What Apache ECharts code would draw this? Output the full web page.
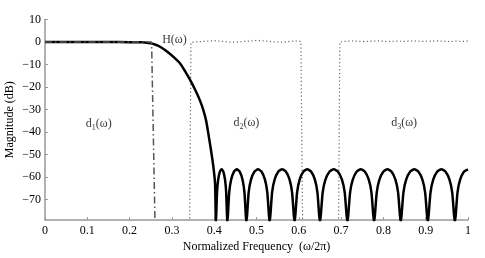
<!DOCTYPE html>
<html>
<head>
<meta charset="utf-8">
<script src="https://cdn.jsdelivr.net/npm/echarts@6/dist/echarts.min.js"></script>
<style>
html,body{margin:0;padding:0;background:#fff;}
#chart{width:485px;height:258px;}
</style>
</head>
<body>
<div id="chart"></div>
<script>
// ---- data ----
var xTicks = [0, 0.1, 0.2, 0.3, 0.4, 0.5, 0.6, 0.7, 0.8, 0.9, 1];
var yTicks = [10, 0, -10, -20, -30, -40, -50, -60, -70];

// H(omega): passband + roll-off
var hFreq = [0, 0.05, 0.1, 0.15, 0.2, 0.23, 0.24, 0.25, 0.26, 0.272, 0.29, 0.305, 0.319, 0.331, 0.343, 0.355, 0.366, 0.374, 0.381, 0.386, 0.392, 0.398, 0.402, 0.404,
  // stopband lobes
  0.4048, 0.4067, 0.4094, 0.4135, 0.4175, 0.4216, 0.4256, 0.4283, 0.4302, 0.431,
  0.4324, 0.4355, 0.44, 0.4468, 0.4535, 0.4603, 0.467, 0.4715, 0.4747, 0.476,
  0.4777, 0.4815, 0.487, 0.4953, 0.5035, 0.5118, 0.52, 0.5255, 0.5294, 0.531,
  0.5328, 0.5369, 0.5428, 0.5517, 0.5605, 0.5694, 0.5782, 0.5841, 0.5883, 0.590,
  0.5918, 0.596, 0.602, 0.611, 0.620, 0.629, 0.638, 0.644, 0.6482, 0.650,
  0.652, 0.6565, 0.663, 0.6728, 0.6825, 0.6923, 0.702, 0.7085, 0.713, 0.715,
  0.7169, 0.7213, 0.7276, 0.737, 0.7465, 0.756, 0.7654, 0.7717, 0.7761, 0.778,
  0.7799, 0.7843, 0.7906, 0.8001, 0.8095, 0.819, 0.8284, 0.8347, 0.8391, 0.841,
  0.8429, 0.8474, 0.8538, 0.8634, 0.873, 0.8826, 0.8922, 0.8986, 0.9031, 0.905,
  0.9069, 0.9114, 0.9178, 0.9274, 0.937, 0.9466, 0.9562, 0.9626, 0.9671, 0.969,
  0.9709, 0.9752, 0.9814, 0.9907, 1.0];
var hMag = [0, 0, 0, 0, -0.05, -0.15, -0.3, -0.6, -1.1, -2.1, -4.4, -6.8, -9.4, -12.9, -16.8, -21.2, -25.8, -30.0, -35.0, -40.5, -47.5, -55.3, -62.8, -80,
  -77, -66.7, -61.1, -57.5, -56.5, -57.5, -61.1, -66.7, -77, -80,
  -77, -66.7, -61.1, -57.5, -56.5, -57.5, -61.1, -66.7, -77, -80,
  -77, -66.7, -61.1, -57.5, -56.5, -57.5, -61.1, -66.7, -77, -80,
  -77, -66.7, -61.1, -57.5, -56.5, -57.5, -61.1, -66.7, -77, -80,
  -77, -66.7, -61.1, -57.5, -56.5, -57.5, -61.1, -66.7, -77, -80,
  -77, -66.7, -61.1, -57.5, -56.5, -57.5, -61.1, -66.7, -77, -80,
  -77, -66.7, -61.1, -57.5, -56.5, -57.5, -61.1, -66.7, -77, -80,
  -77, -66.7, -61.1, -57.5, -56.5, -57.5, -61.1, -66.7, -77, -80,
  -77, -66.7, -61.1, -57.5, -56.5, -57.5, -61.1, -66.7, -77, -80,
  -77, -66.7, -61.1, -57.5, -56.5, -57.5, -61.1, -66.7, -77, -80,
  -77, -66.7, -61.1, -57.5, -56.5];

// d1(omega): ideal lowpass (dash-dot)
var d1Freq = [0, 0.252, 0.26];
var d1Mag = [0, 0, -80];

// d2(omega): bandpass (dotted)
var d2Freq = [0.342, 0.345, 0.36, 0.38, 0.40, 0.42, 0.44, 0.46, 0.48, 0.50, 0.52, 0.54, 0.56, 0.58, 0.60, 0.605, 0.609];
var d2Mag = [-80, -0.2, 0.1, 0.4, 0.6, 0.3, -0.1, 0.1, 0.4, 0.7, 0.5, 0.1, -0.1, 0.3, 0.5, 0.1, -80];

// d3(omega): highpass (dotted)
var d3Freq = [0.694, 0.697, 0.71, 0.73, 0.75, 0.77, 0.79, 0.81, 0.83, 0.85, 0.87, 0.89, 0.91, 0.93, 0.95, 0.97, 0.99, 1.0];
var d3Mag = [-80, 0.0, 0.3, 0.5, 0.2, 0.4, 0.5, 0.2, 0.4, 0.3, 0.5, 0.3, 0.4, 0.5, 0.2, 0.4, 0.3, 0.4];

// annotation positions (data units) and texts
var annoText = ['H', 'd1', 'd2', 'd3'];
var annoX = [0.277, 0.127, 0.476, 0.849];
var annoY = [0.9, -36.5, -36.0, -36.0];

function zip(a, b) { return a.map(function (v, i) { return [v, b[i]]; }); }

var serif = '"Liberation Serif", "DejaVu Serif", serif';
var chart = echarts.init(document.getElementById('chart'), null, {renderer: 'canvas'});

var annoData = annoText.map(function (t, i) {
  var txt;
  if (t === 'H') txt = '{b|H(ω)}';
  else txt = '{b|d}{s|' + t.slice(1) + '}{b|(ω)}';
  return {
    value: [annoX[i], annoY[i]],
    label: {
      formatter: txt,
      position: t === 'H' ? 'right' : 'inside',
      distance: 0
    }
  };
});

chart.setOption({
  animation: false,
  backgroundColor: '#fff',
  grid: {left: 45, right: 17, top: 19.5, bottom: 38, containLabel: false, outerBoundsMode: 'none'},
  xAxis: {
    type: 'value', min: 0, max: 1, interval: 0.1,
    name: 'Normalized Frequency  (ω/2π)',
    nameLocation: 'middle', nameGap: 21, nameMoveOverlap: false,
    nameTextStyle: {fontFamily: serif, fontSize: 12, color: '#000'},
    axisLine: {show: true, onZero: false, lineStyle: {color: '#999', width: 1.5}},
    axisTick: {show: true, inside: true, length: 3, lineStyle: {color: '#999'}},
    axisLabel: {fontFamily: serif, fontSize: 12, color: '#000', margin: 5},
    splitLine: {show: false}
  },
  yAxis: {
    type: 'value', min: -79, max: 10,
    name: 'Magnitude (dB)',
    nameLocation: 'middle', nameGap: 29, nameMoveOverlap: false,
    nameTextStyle: {fontFamily: serif, fontSize: 12, color: '#000'},
    axisLine: {show: true, lineStyle: {color: '#999', width: 1.5}},
    axisTick: {show: true, inside: true, length: 3, customValues: yTicks, lineStyle: {color: '#999'}},
    axisLabel: {
      fontFamily: serif, fontSize: 12, color: '#000', margin: 4,
      customValues: yTicks,
      formatter: function (v) { return String(v).replace('-', '\u2212'); }
    },
    splitLine: {show: false}
  },
  series: [
    {
      type: 'line', data: zip(d2Freq, d2Mag), symbol: 'none', clip: true,
      lineStyle: {color: '#666', width: 1.2, type: [1.2, 2.5]}
    },
    {
      type: 'line', data: zip(d3Freq, d3Mag), symbol: 'none', clip: true,
      lineStyle: {color: '#666', width: 1.2, type: [1.2, 2.5]}
    },
    {
      type: 'line', data: zip(hFreq, hMag), symbol: 'none', clip: true, smooth: 0.2,
      lineStyle: {color: '#000', width: 2.5}
    },
    {
      type: 'line', data: zip(d1Freq, d1Mag), symbol: 'none', clip: true,
      lineStyle: {color: '#555', width: 1.5, type: [7, 3, 1.5, 3]}
    },
    {
      type: 'scatter', symbolSize: 0, data: annoData, silent: true,
      label: {
        show: true, color: '#000',
        rich: {
          b: {fontFamily: serif, fontSize: 12, color: '#000'},
          s: {fontFamily: serif, fontSize: 8, color: '#000', padding: [7, 0, 0, 0]}
        }
      }
    }
  ]
});
</script>
</body>
</html>
